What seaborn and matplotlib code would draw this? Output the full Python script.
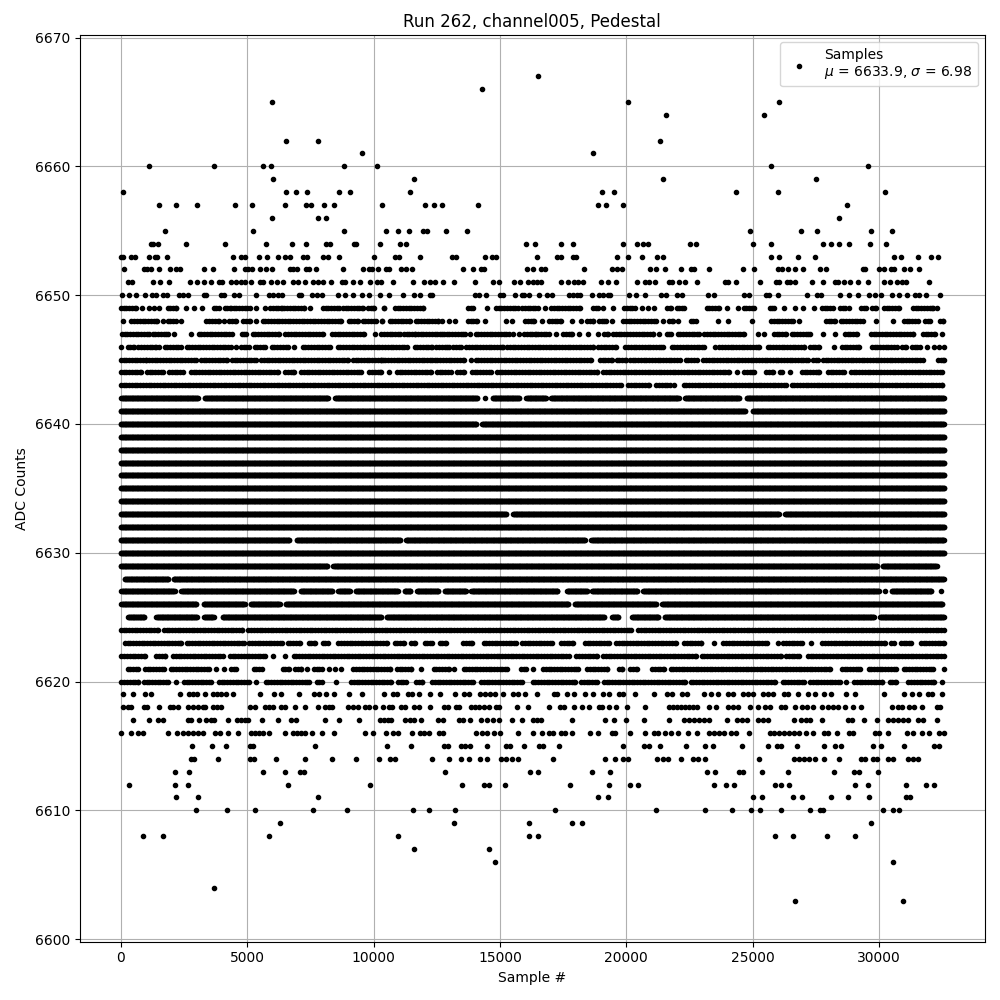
import numpy as np
import pandas as pd
import matplotlib
matplotlib.use("Agg")
import matplotlib.pyplot as plt
import seaborn as sns

# Values. Sparse levels list every visible sample,
# levels where the dots merge into bands list the (first, last) sample of each band.
samples_6667 = [16505]
samples_6666 = [14290]
samples_6665 = [5966, 20070, 26030]
samples_6664 = [21575, 25435]
samples_6662 = [6520, 7790, 21335]
samples_6661 = [9530, 18680]
samples_6660 = [1135, 3670, 5610, 5930, 8820, 10120, 25710, 29550]
samples_6659 = [6010, 11595, 21455, 27495]
samples_6658 = [105, 6520, 6920, 7350, 8620, 9055, 11435, 19040, 19515, 24325, 25990, 30225]
samples_6657 = [1530, 2165, 3000, 4500, 5175, 6480, 7310, 7510, 8025, 8420, 10335, 12030, 12385, 12700, 14130,
                18880, 19210, 19870, 28720]
samples_6656 = [5966, 7790, 8130, 28405]
samples_6655 = [1730, 5215, 8820, 10485, 10960, 11395, 11950, 12110, 12860, 13690, 24880, 26900, 27530, 29670, 30500]
samples_6654 = [1200, 1280, 1490, 2560, 4105, 5730, 6760, 7310, 8105, 8290, 9215, 9290, 10235, 11040, 11280, 16030,
                16385, 17415, 17890, 19870, 20425, 20665, 20860, 22500, 22740, 25000, 25710, 27770, 28085, 28405,
                28800, 29630, 30265]
samples_6653 = [0, 90, 410, 570, 1135, 1360, 1440, 1810, 4420, 4740, 4900, 5450, 5770, 6200, 6480, 6680, 7190, 7350,
                7990, 8180, 8620, 10005, 10840, 11000, 11830, 13100, 13260, 14405, 14685, 14840, 16465, 17257, 17415,
                17890, 18020, 19635, 20070, 20620, 21220, 21455, 25710, 26030, 26780, 27450, 30580, 30860, 31530,
                32050, 32325]
samples_6652 = [145, 925, 1055, 1190, 1530, 1930, 2165, 2335, 3275, 3630, 4460, 4900, 5015, 5175, 5490, 5730, 5966,
                6680, 6800, 6955, 7310, 7430, 7710, 8780, 9570, 9810, 9930, 10165, 10485, 10605, 11080, 11280, 11515,
                13535, 13930, 14250, 14365, 16070, 16305, 16625, 16780, 18325, 19435, 19635, 19830, 20940, 21165,
                21535, 22150, 22555, 22660, 23255, 24600, 25040, 25990, 26145, 26385, 26660, 26980, 27650, 27890,
                29355, 29435, 29990, 30185, 30460, 30580, 30980, 31215, 31570]
samples_6651 = [265, 460, 1255, 1570, 1890, 2720, 3000, 3310, 3550, 3870, 3985, 4340, 4540, 4740, 4900, 5135, 5490,
                5610, 5930, 6165, 6400, 6800, 7000, 7270, 7590, 7790, 7990, 8300, 8740, 8860, 9175, 9450, 9850, 10120,
                10280, 10760, 11555, 11990, 12230, 12425, 12745, 13180, 14010, 14725, 14960, 15555, 15790, 16110,
                16305, 16465, 16635, 17415, 17695, 17930, 18090, 18290, 19000, 19275, 19595, 20425, 20740, 20900,
                21140, 21700, 21790, 22070, 22305, 22780, 23890, 24010, 24325, 25275, 25910, 26030, 26345, 26465,
                26660, 27335, 27770, 28245, 28365, 28600, 28840, 29155, 29550, 30185, 30425, 30700, 30900, 31070,
                31970]
samples_6650 = [65, 305, 620, 975, 1215, 1410, 1650, 1810, 2285, 2480, 2640, 3310, 3390, 3950, 4065, 4460, 4660, 5330,
                5850, 6005, 6200, 6360, 7035, 7115, 7550, 7750, 7945, 8580, 8860, 9175, 9530, 9810, 10250, 10605,
                11160, 11595, 11830, 12230, 12310, 14010, 14170, 14445, 15000, 15120, 15595, 15870, 15950, 16150,
                16545, 16860, 17060, 17730, 17890, 18050, 18155, 18645, 18920, 19080, 19280, 19370, 20110, 20385,
                20740, 21375, 21565, 21990, 22190, 23215, 23455, 24640, 24840, 25510, 25630, 25990, 27135, 27530,
                27690, 28445, 28800, 29155, 29590, 29830, 30065, 30500, 30780, 31095, 31415, 31570, 31850, 32405]

spans_6649 = [(0, 620), (820, 820), (1110, 1110), (1330, 1330), (1530, 1530), (1850, 2200), (2560, 2560), (2880, 2880),
              (3230, 3230), (3670, 3890), (4105, 4360), (4460, 5110), (5350, 5350), (5700, 5700), (5900, 6375),
              (6470, 7260), (7470, 7470), (7990, 8650), (8780, 9570), (9770, 10030), (10400, 10420), (10840, 11950),
              (13730, 13930), (14485, 14485), (14840, 15710), (15870, 16375), (16505, 16505), (16780, 16780),
              (17020, 18155), (18680, 18880), (19080, 19080), (19480, 19480), (19910, 20335), (20620, 20620),
              (20860, 20860), (21080, 21080), (21610, 21765), (21990, 22265), (23175, 23650), (23970, 23970),
              (24400, 24400), (24640, 25040), (25670, 25830), (26225, 26225), (26660, 26660), (26980, 26980),
              (27415, 27415), (27730, 28165), (28445, 28630), (28800, 28800), (29275, 29475), (29710, 29870),
              (30185, 30805), (31335, 32125), (32285, 32285)]
spans_6648 = [(90, 90), (420, 750), (860, 1450), (1650, 1650), (1850, 2180), (2380, 2380), (3390, 3890), (4065, 4065),
              (4290, 4550), (4840, 5110), (5330, 5330), (5610, 8710), (9015, 9370), (9570, 10100), (10320, 10330),
              (10630, 11450), (11660, 12545), (12700, 12700), (12980, 12980), (13220, 13220), (13730, 14090),
              (14405, 14405), (15240, 15240), (15475, 15475), (15990, 16350), (16665, 16665), (16940, 17430),
              (17850, 17850), (18210, 18210), (18445, 18680), (18910, 19210), (19435, 19435), (19870, 21190),
              (21455, 21455), (21690, 21830), (22030, 22030), (22540, 22740), (23610, 23610), (24010, 24010),
              (24960, 24960), (25725, 26580), (26820, 26820), (27890, 28245), (28480, 29355), (29870, 29870),
              (30540, 30540), (30980, 31530), (31810, 32010), (32405, 32520)]
spans_6647 = [(40, 1120), (1255, 1850), (2085, 2085), (2760, 2760), (3075, 4395), (4780, 4950), (5215, 6240),
              (6510, 8010), (8360, 9610), (10045, 10045), (10300, 11030), (11200, 11650), (11750, 12690),
              (12780, 13600), (13800, 13800), (14040, 15360), (15515, 15515), (15750, 15750), (15950, 16440),
              (16505, 16940), (17220, 17220), (17495, 17850), (18130, 18130), (18485, 18485), (18880, 18880),
              (19120, 19280), (19475, 20135), (20270, 21060), (21295, 21295), (21590, 21765), (22030, 22890),
              (23085, 24640), (25195, 25195), (25435, 25435), (25830, 26320), (26540, 27255), (27770, 27770),
              (28245, 28245), (28640, 29115), (29670, 31335), (31730, 32220), (32480, 32480)]
spans_6646 = [(25, 25), (265, 530), (700, 1385), (1530, 1530), (1730, 2375), (2600, 4355), (4555, 4555), (4750, 5055),
              (5290, 5690), (5970, 6600), (6840, 6840), (7195, 8290), (8580, 9770), (9900, 11320), (11620, 12310),
              (12480, 12980), (13140, 13470), (13670, 15120), (15280, 17030), (17125, 18680), (18880, 19580),
              (19960, 21430), (21790, 23060), (23490, 23490), (23680, 25235), (25590, 27045), (27255, 27610),
              (28205, 28205), (28520, 29195), (29710, 30700), (30900, 31070), (31295, 31610), (31890, 31890),
              (32165, 32165), (32365, 32365), (32560, 32560)]
spans_6645 = [(0, 1015), (1120, 2970), (3170, 4200), (4395, 5345), (5545, 8975), (9175, 10300), (10360, 12120),
              (12215, 12505), (12640, 13575), (13840, 13840), (14040, 18590), (18950, 19450), (19610, 20000),
              (20135, 22110), (22345, 22780), (23045, 27175), (27375, 27570), (27770, 31730), (32325, 32560)]
spans_6644 = [(0, 790), (1030, 1650), (1910, 2455), (2770, 6220), (6495, 6840), (7130, 9500), (9830, 10300),
              (10600, 10600), (10920, 12255), (12505, 13045), (13300, 13575), (13890, 14630), (14880, 18855),
              (19080, 24050), (24365, 24365), (24655, 25050), (25525, 25815), (26080, 26150), (26490, 26490),
              (26940, 27610), (27970, 28600), (28880, 32500)]
spans_6643 = [(0, 19780), (20070, 20900), (21180, 21720), (21870, 21870), (22265, 26320), (26540, 32500)]
spans_6642 = [(25, 3035), (3325, 8185), (8475, 14100), (14390, 14390), (14710, 15750), (16045, 16810), (17020, 22070),
              (22320, 24470), (24760, 32560)]
spans_6641 = [(0, 24680), (25000, 32560)]
spans_6640 = [(0, 14063), (14290, 32560)]
spans_6639 = [(0, 32560)]
spans_6638 = [(0, 32560)]
spans_6637 = [(0, 32560)]
spans_6636 = [(0, 32560)]
spans_6635 = [(0, 32560)]
spans_6634 = [(0, 32560)]
spans_6633 = [(0, 15250), (15515, 26030), (26280, 32560)]
spans_6632 = [(0, 32560)]
spans_6631 = [(0, 6670), (6960, 11040), (11280, 18350), (18620, 32560)]
spans_6630 = [(0, 32560)]
spans_6629 = [(0, 8160), (8410, 29920), (30145, 32270)]
spans_6628 = [(160, 1875), (2085, 32560)]
spans_6627 = [(25, 2125), (2400, 6840), (7115, 8355), (8610, 9055), (9290, 10960), (11225, 11460), (11715, 12545),
              (12810, 13640), (13865, 17270), (17650, 18430), (18645, 20440), (20665, 29990), (30240, 30240),
              (30500, 32070), (32455, 32455)]
spans_6626 = [(25, 2985), (3275, 4900), (5135, 6280), (6520, 17705), (17955, 21165), (21415, 32500)]
spans_6625 = [(290, 925), (1410, 3010), (3300, 3670), (4025, 10300), (10525, 19120), (19435, 19670), (20230, 21260),
              (21520, 29790), (30040, 32560)]
spans_6624 = [(0, 1465), (1700, 4805), (5050, 20200), (20465, 32560)]
spans_6623 = [(160, 2375), (2600, 4860), (5080, 6375), (6600, 7100), (7430, 7695), (7985, 8185), (8610, 10540),
              (10830, 11200), (11475, 11620), (12015, 12320), (12610, 12850), (13535, 13905), (14350, 15620),
              (15870, 17070), (17415, 17905), (18355, 19315), (19595, 21975), (22280, 22950), (23455, 23455),
              (23835, 25565), (25990, 25990), (26210, 26950), (27310, 27310), (27755, 30225), (30475, 30580),
              (30860, 31270), (31650, 32560)]
spans_6622 = [(25, 965), (1410, 1755), (2070, 4040), (4315, 5715), (6005, 6005), (6510, 6510), (6840, 17720),
              (18025, 18830), (19080, 22770), (22980, 26120), (26320, 26820), (27175, 32560)]
spans_6621 = [(265, 675), (950, 1690), (1970, 3470), (3750, 3750), (4080, 4080), (4355, 4555), (5255, 5585),
              (6400, 6640), (6890, 7130), (7350, 7350), (7640, 7960), (8225, 8225), (8460, 8460), (8725, 8725),
              (9200, 10640), (10920, 11490), (11885, 11885), (12375, 12980), (13180, 13180), (13560, 15290),
              (15845, 16015), (16305, 16305), (16700, 18100), (18445, 19250), (19725, 19845), (20160, 20440),
              (21020, 21470), (21750, 28075), (28520, 29260), (29580, 30650), (30965, 32140), (32560, 32560)]
spans_6620 = [(25, 700), (910, 1850), (2190, 2190), (2495, 3565), (3880, 5055), (5335, 5335), (5730, 7430),
              (7750, 7960), (8525, 8525), (9110, 10690), (10960, 11290), (11690, 11925), (12310, 13930),
              (14250, 15885), (16295, 17955), (18210, 18855), (19105, 22330), (22540, 25895), (26185, 27020),
              (27270, 28470), (28700, 28700), (29010, 30120), (30410, 30650), (31160, 32165), (32480, 32480)]

samples_6619 = [105, 500, 975, 1175, 2325, 2680, 2840, 3000, 3315, 3630, 3790, 3945, 4145, 4420, 5490, 6045, 6325,
                7035, 7630, 7830, 8105, 8450, 9015, 9530, 10400, 10760, 10920, 11345, 11515, 11790, 12240, 12640,
                13220, 13575, 13770, 14210, 14405, 14605, 14800, 15120, 15515, 15715, 16005, 16465, 17140, 17260,
                17655, 17930, 18365, 18680, 19080, 19315, 19710, 19870, 20345, 21100, 21590, 21790, 22185, 22385,
                23060, 23350, 23610, 24010, 24205, 24600, 24800, 25000, 25395, 25590, 25790, 26225, 26385, 26780,
                27175, 27465, 27810, 28100, 28680, 29035, 30185, 30980, 31295, 31570, 31930, 32085, 32480]
samples_6618 = [105, 265, 420, 900, 1055, 1530, 1930, 2070, 2255, 2640, 2840, 3035, 3235, 3340, 3630, 3790, 3945,
                5095, 5295, 5690, 5850, 6005, 6325, 6510, 6875, 7275, 7790, 8065, 8225, 8340, 8975, 9175, 9370, 9650,
                9835, 10045, 10360, 10605, 10725, 11080, 11240, 11595, 11790, 12240, 12780, 12940, 13260, 13375,
                13850, 14010, 14170, 14365, 14565, 14840, 14960, 15675, 16110, 16940, 17375, 17535, 17930, 18245,
                18525, 18920, 19040, 19315, 19595, 20030, 20730, 21690, 21850, 22010, 22170, 22330, 22490, 22650,
                22780, 23255, 23535, 24010, 24205, 24405, 24880, 25195, 25475, 25670, 26105, 26265, 26660, 26940,
                27135, 27375, 27730, 27970, 28165, 28365, 28640, 28960, 29275, 30500, 30740, 30900, 31175, 31375,
                31690, 32285, 32405]
samples_6617 = [500, 1135, 1490, 1650, 2640, 2760, 3075, 3390, 3550, 3670, 4225, 4580, 4740, 4900, 5015, 5570, 6205,
                6720, 6920, 8065, 8620, 9410, 10245, 10400, 10560, 10700, 11240, 11425, 11595, 11870, 12545, 12745,
                13375, 13535, 13800, 14250, 14485, 14725, 14960, 15475, 15870, 16305, 16465, 16625, 17850, 19160,
                19515, 19990, 20700, 21690, 22265, 22490, 22690, 22885, 23085, 23280, 23970, 24365, 24560, 24760,
                25195, 25395, 25590, 26635, 26900, 27095, 27255, 27730, 28760, 28920, 29405, 29910, 30345, 30540,
                30740, 30940, 31135, 31530, 31730, 32285]
samples_6616 = [25, 420, 700, 860, 1850, 2205, 2480, 2640, 2840, 3035, 3235, 3710, 3905, 4225, 4620, 5135, 5295, 5450,
                5610, 5850, 6480, 6800, 6955, 7115, 7275, 7550, 7945, 8420, 9650, 9965, 10480, 10760, 10960, 11515,
                11830, 11990, 12190, 12585, 12745, 14050, 14290, 14485, 14760, 15000, 15715, 16305, 16665, 16940,
                17100, 17415, 17575, 17850, 18565, 18880, 19435, 19555, 20150, 20740, 21100, 21255, 21535, 21765,
                22030, 22425, 22780, 23280, 23480, 23680, 23875, 24140, 24340, 24840, 25670, 25855, 26055, 26250,
                26450, 26650, 26845, 27095, 27375, 27810, 27970, 28325, 28800, 28960, 29830, 29990, 30345, 31095,
                31335, 31690, 31970, 32365, 32560]
samples_6615 = [2800, 3590, 4145, 5095, 5215, 7670, 10520, 11475, 12780, 12940, 13455, 13615, 13810, 14485, 15240,
                15395, 15950, 16545, 16705, 17335, 19870, 20700, 20900, 21335, 22345, 23095, 23415, 24560, 25590,
                25950, 26105, 26740, 27810, 28245, 28485, 29750, 30065, 30980, 32165, 32365]
samples_6614 = [2760, 2880, 3830, 5095, 5255, 6125, 7275, 8340, 9295, 10205, 10645, 10840, 12310, 12980, 13455, 13770,
                14220, 14485, 15040, 15240, 15475, 15715, 17100, 19160, 19555, 19870, 20070, 21220, 21455, 21650,
                22145, 22620, 22820, 23095, 25235, 26620, 26820, 27020, 27215, 27455, 27810, 28405, 29275, 29435,
                29750, 29910, 30345, 30540, 31135, 31335, 31530]
samples_6613 = [2125, 2680, 5610, 6480, 7075, 7235, 12820, 16190, 16505, 18645, 19355, 23175, 23495, 24445, 24600,
                25355, 26385, 28205, 29000, 29195, 29950]
samples_6612 = [305, 2125, 2640, 6600, 9850, 13495, 14365, 14565, 15200, 17770, 19315, 20150, 20465, 23455, 23930,
                24260, 25870, 26105, 26425, 29035, 29550, 31055, 31850, 32165]
samples_6611 = [2165, 3035, 7790, 18880, 19280, 25000, 25355, 26580, 26940, 28085, 28760, 29590, 31055, 31215]
samples_6610 = [2955, 4185, 5295, 7590, 8935, 11555, 12190, 13220, 17180, 21180, 23095, 24165, 24920, 25275, 26105,
                27255, 27650, 27770, 30145, 30540, 30780]
samples_6609 = [6285, 13180, 16150, 17850, 18245, 29670]
samples_6608 = [860, 1650, 5850, 10960, 16150, 16505, 25870, 26580, 27930, 29035]
samples_6607 = [11595, 14565]
samples_6606 = [14800, 30540]
samples_6604 = [3670]
samples_6603 = [26660, 30940]

sparse_levels = {
    6667: samples_6667, 6666: samples_6666, 6665: samples_6665, 6664: samples_6664, 6662: samples_6662,
    6661: samples_6661, 6660: samples_6660, 6659: samples_6659, 6658: samples_6658, 6657: samples_6657,
    6656: samples_6656, 6655: samples_6655, 6654: samples_6654, 6653: samples_6653, 6652: samples_6652,
    6651: samples_6651, 6650: samples_6650, 6619: samples_6619, 6618: samples_6618, 6617: samples_6617,
    6616: samples_6616, 6615: samples_6615, 6614: samples_6614, 6613: samples_6613, 6612: samples_6612,
    6611: samples_6611, 6610: samples_6610, 6609: samples_6609, 6608: samples_6608, 6607: samples_6607,
    6606: samples_6606, 6604: samples_6604, 6603: samples_6603,
}
band_levels = {
    6649: spans_6649, 6648: spans_6648, 6647: spans_6647, 6646: spans_6646, 6645: spans_6645, 6644: spans_6644,
    6643: spans_6643, 6642: spans_6642, 6641: spans_6641, 6640: spans_6640, 6639: spans_6639, 6638: spans_6638,
    6637: spans_6637, 6636: spans_6636, 6635: spans_6635, 6634: spans_6634, 6633: spans_6633, 6632: spans_6632,
    6631: spans_6631, 6630: spans_6630, 6629: spans_6629, 6628: spans_6628, 6627: spans_6627, 6626: spans_6626,
    6625: spans_6625, 6624: spans_6624, 6623: spans_6623, 6622: spans_6622, 6621: spans_6621, 6620: spans_6620,
}

MU = 6633.9
SIGMA = 6.98
OUTER_STEP = 110  # samples between dots in the thin outer bands
INNER_STEP = 25  # the rows around the mean are packed much tighter

rows = []
for level, samples in sparse_levels.items():
    rows += [(s, level) for s in samples]
for level, spans in band_levels.items():
    step = INNER_STEP if abs(level - MU) < 9 else OUTER_STEP
    for start, end in spans:
        rows += [(s, level) for s in np.arange(start, end, step)]
        rows.append((end, level))
df = pd.DataFrame(rows, columns=["sample", "adc"])

fig, ax = plt.subplots(figsize=(10, 10), dpi=100)
sns.scatterplot(data=df, x="sample", y="adc", ax=ax, color="black", marker=".", s=36,
                edgecolor="black", linewidth=1, zorder=2,
                label="Samples\n$\\mu$ = {:.1f}, $\\sigma$ = {:.2f}".format(MU, SIGMA))
ax.grid(True)
ax.set_title("Run 262, channel005, Pedestal")
ax.set_xlabel("Sample #")
ax.set_ylabel("ADC Counts")
ax.legend(loc="upper right")
fig.tight_layout()
fig.subplots_adjust(top=0.965)
fig.savefig("out.png", dpi=100)
